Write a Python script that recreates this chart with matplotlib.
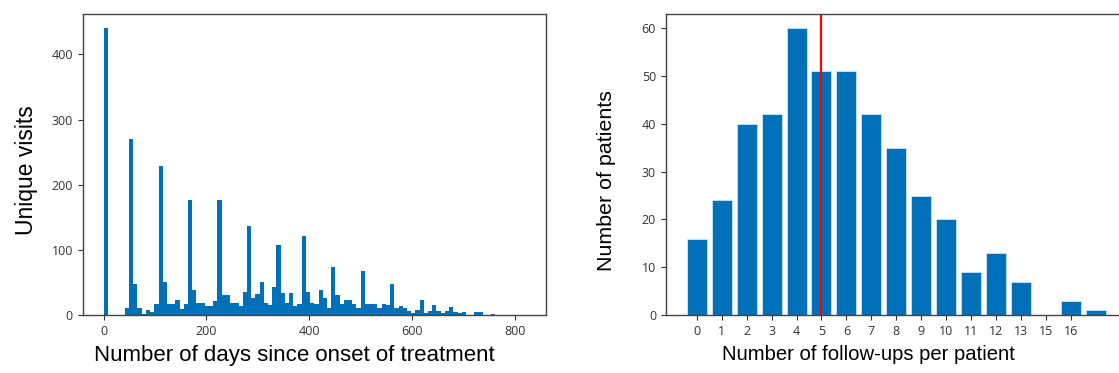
import matplotlib
matplotlib.use('Agg')
import matplotlib.pyplot as plt
import numpy as np

# --- data: left histogram (100 bins over 0..820 days) ---
day_max = 820
n_bins = 100
visit_counts = [
    440, 0, 0, 0, 0, 10, 270, 47, 10, 2,
    8, 5, 17, 228, 51, 17, 17, 23, 9, 17,
    177, 38, 19, 19, 14, 14, 21, 177, 30, 30,
    19, 19, 14, 36, 136, 26, 32, 51, 18, 15,
    43, 108, 34, 18, 34, 14, 17, 121, 36, 19,
    17, 38, 26, 11, 74, 30, 17, 23, 23, 17,
    11, 68, 17, 17, 17, 11, 17, 15, 47, 11,
    14, 11, 6, 3, 8, 23, 3, 6, 15, 6,
    3, 6, 13, 5, 3, 4, 0, 0, 4, 4,
    0, 0, 2, 0, 0, 0, 0, 0, 0, 0,
]

# --- data: right bar chart ---
followup_counts = [16, 24, 40, 42, 60, 51, 51, 42, 35, 25, 20, 9, 13, 7, 0, 3, 1]
followup_ticklabels = ['0', '1', '2', '3', '4', '5', '6', '7', '8', '9',
                       '10', '11', '12', '13', '15', '16']
median_followups = 5

bar_color = '#0071b8'
tick_font = 'Open Sans'
label_font = 'Liberation Sans'

fig = plt.figure(figsize=(11.19, 3.73), dpi=100)

# --- left: visits histogram ---
ax1 = fig.add_axes([0.0739, 0.1555, 0.414, 0.807])
edges = np.linspace(0, day_max, n_bins + 1)
ax1.hist(edges[:-1], bins=edges, weights=visit_counts, color=bar_color)
ax1.set_xticks([0, 200, 400, 600, 800])
ax1.set_yticks([0, 100, 200, 300, 400])
ax1.set_xlabel('Number of days since onset of treatment', fontsize=16,
               family=label_font)
ax1.set_ylabel('Unique visits', fontsize=16.5, family=label_font)
ax1.xaxis.set_label_coords(0.458, -0.1)
ax1.yaxis.set_label_coords(-0.097, 0.48)

# --- right: follow-ups per patient ---
ax2 = fig.add_axes([0.595, 0.1555, 0.412, 0.807])
ax2.bar(np.arange(len(followup_counts)), followup_counts, color=bar_color,
        edgecolor='#cfe6f5', linewidth=0.6)
ax2.axvline(median_followups, color='red', lw=1.6)
ax2.set_xticks(np.arange(len(followup_ticklabels)))
ax2.set_xticklabels(followup_ticklabels)
ax2.set_yticks([0, 10, 20, 30, 40, 50, 60])
ax2.set_xlabel('Number of follow-ups per patient', fontsize=14.6,
               family=label_font)
ax2.set_ylabel('Number of patients', fontsize=15.4, family=label_font)
ax2.xaxis.set_label_coords(0.44, -0.1)
ax2.yaxis.set_label_coords(-0.107, 0.445)

for ax in (ax1, ax2):
    for lab in ax.get_xticklabels() + ax.get_yticklabels():
        lab.set_family(tick_font)
        lab.set_fontsize(9)
        lab.set_color('#333333')
    ax.tick_params(colors='#333333', length=3.5, width=0.8)
    for sp in ax.spines.values():
        sp.set_color('#444444')
        sp.set_linewidth(1.0)

fig.savefig('out.png', dpi=100)
